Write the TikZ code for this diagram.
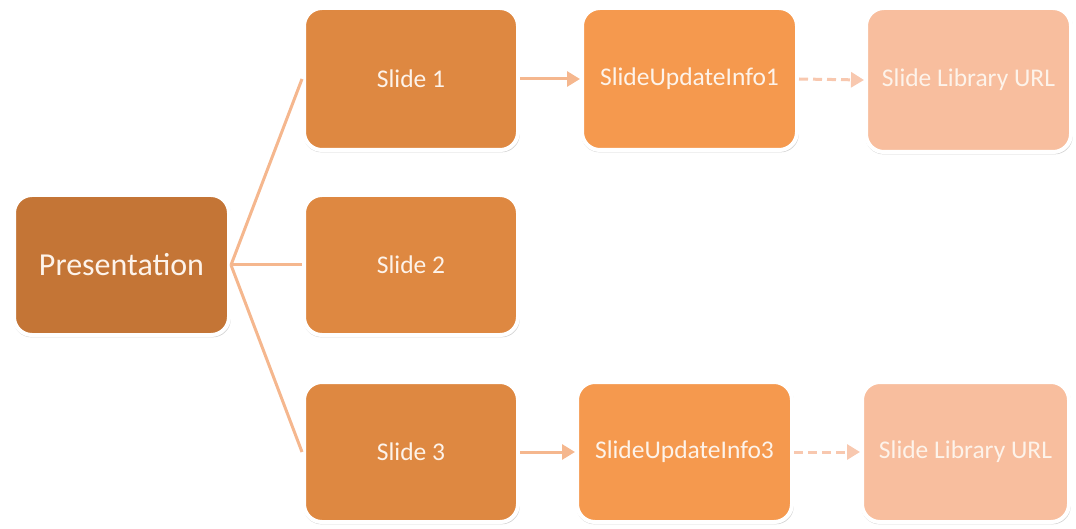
\documentclass[tikz,border=0pt]{standalone}
\usepackage{fontspec}
\setmainfont{Carlito}
\usetikzlibrary{arrows.meta,shadows}
\definecolor{cpres}{HTML}{C47536}
\definecolor{cslide}{HTML}{DE8841}
\definecolor{cupd}{HTML}{F5994E}
\definecolor{clib}{HTML}{F8BE9E}
\definecolor{cline}{HTML}{F5B78E}
\definecolor{cdash}{HTML}{F8C8AF}
\definecolor{ctext}{HTML}{FDF3EA}
\tikzset{
  box/.style={draw=white, line width=4pt, rounded corners=18pt,
    minimum width=214pt, minimum height=142pt, inner sep=0pt,
    text=ctext, font=\fontsize{25.5}{30}\selectfont,
    drop shadow={shadow xshift=0.5pt, shadow yshift=-1.5pt, shadow scale=1.012, opacity=0.3, fill=black!55}},
  conn/.style={draw=cline, line width=3pt},
  arr/.style={draw=cline, line width=3pt, -{Triangle[length=13pt,width=15pt]}},
  darr/.style={draw=cdash, line width=3pt, dash pattern=on 9pt off 5pt, -{Triangle[length=13pt,width=15pt]}}
}
\begin{document}
\begin{tikzpicture}[x=1pt,y=-1pt]
\useasboundingbox (0,0) rectangle (1076,529);
\node[box, fill=cpres, minimum width=215pt, minimum height=140pt, font=\fontsize{32}{38}\selectfont] (pres) at (121.5,265) {Presentation};
\node[box, fill=cslide] (s1) at (411,79) {Slide 1};
\node[box, fill=cslide, minimum height=140pt] (s2) at (411,265) {Slide 2};
\node[box, fill=cslide, minimum height=140pt] (s3) at (411,452) {Slide 3};
\node[box, fill=cupd, minimum width=215pt] (u1) at (689.5,79) {SlideUpdateInfo1};
\node[box, fill=cupd, minimum width=215pt, minimum height=140pt] (u3) at (684.5,452) {SlideUpdateInfo3};
\node[box, fill=clib, minimum width=205pt, minimum height=144pt] (l1) at (968.5,80) {Slide Library URL};
\node[box, fill=clib, minimum width=207pt, minimum height=140pt] (l3) at (965.5,452) {Slide Library URL};
\draw[conn] (pres.east) -- (s1.west);
\draw[conn] (pres.east) -- (s2.west);
\draw[conn] (pres.east) -- (s3.west);
\draw[arr] (s1.east) -- (u1.west);
\draw[arr] (s3.east) -- (u3.west);
\draw[darr] (u1.east) -- (l1.west);
\draw[darr] (u3.east) -- (l3.west);
\end{tikzpicture}
\end{document}
